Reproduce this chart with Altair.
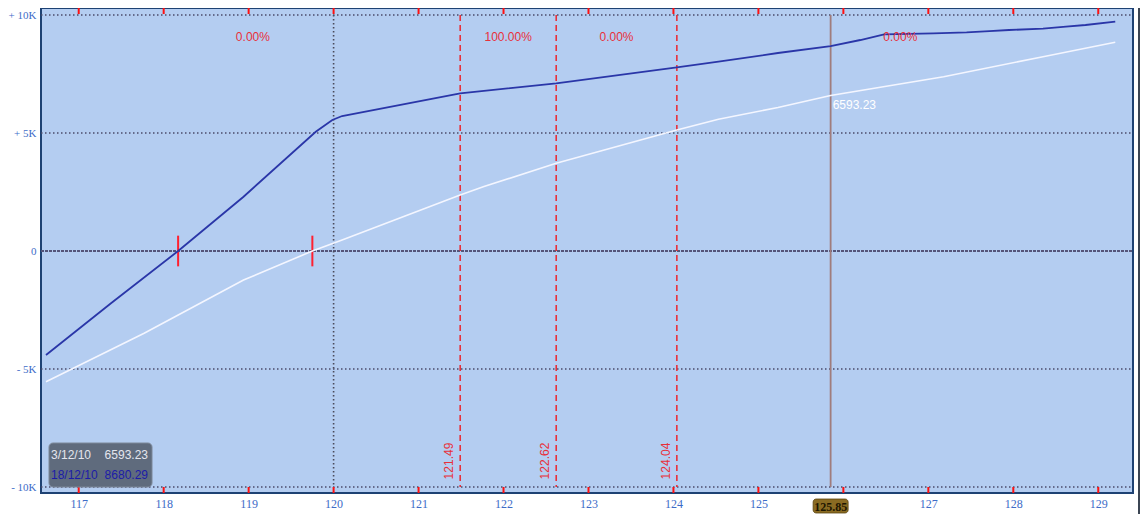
import altair as alt
import pandas as pd

# ---------------- data ----------------
x_ticks = [117, 118, 119, 120, 121, 122, 123, 124, 125, 126, 127, 128, 129]
x_tick_labels = [117, 118, 119, 120, 121, 122, 123, 124, 125, 127, 128, 129]  # 126 is hidden by the cursor badge
y_grid = [-10000, -5000, 5000, 10000]
y_ticks = [-10000, -5000, 0, 5000, 10000]

dark_x = [116.615, 117.38, 118.17, 118.94, 119.79, 119.985, 120.10, 121.49, 122.62, 124.04,
          124.53, 125.23, 125.85, 126.2, 126.48, 127.06, 127.45, 127.72, 127.95, 128.35,
          128.62, 128.85, 129.20]
dark_y = [-4407, -2216, 0, 2301, 5055, 5551, 5720, 6682, 7106, 7784,
          8021, 8390, 8680, 8941, 9182, 9225, 9267, 9320, 9364, 9420,
          9504, 9576, 9716]

white_x = [116.615, 117.77, 118.94, 119.75, 120.10, 121.49, 121.77, 122.62, 124.04, 124.53,
           125.23, 125.85, 127.18, 128.35, 129.20]
white_y = [-5538, -3488, -1229, 0, 466, 2373, 2730, 3716, 5127, 5581,
           6080, 6593, 7386, 8233, 8843]

strikes = [121.49, 122.62, 124.04]
strike_labels = ["121.49", "122.62", "124.04"]
mid_line = [120.0]
cursor_x = [125.85]
cursor_label = ["125.85"]
cursor_value = ["6593.23"]
zero_cross = [118.17, 119.75]

pct_x = [119.05, 122.055, 123.33, 126.67]
pct_text = ["0.00%", "100.00%", "0.00%", "0.00%"]

legend_dates = ["3/12/10", "18/12/10"]
legend_values = ["6593.23", "8680.29"]

# ---------------- scales / axes ----------------
xs = alt.Scale(domain=[116.615, 129.35], nice=False, zero=False)
ys = alt.Scale(domain=[-10254, 10297], nice=False, zero=False)

AXIS_BLUE = "#3d6cc8"
RED = "#e8303a"

x_axis = alt.Axis(values=x_tick_labels, labelColor=AXIS_BLUE, labelFont="Liberation Serif",
                  labelFontSize=12, ticks=False, domain=False, grid=False,
                  labelPadding=5, labelFlush=False, title=None)
y_axis = alt.Axis(values=y_ticks, labelColor=AXIS_BLUE, labelFont="Liberation Serif",
                  labelFontSize=11, ticks=False, domain=False, grid=False,
                  labelPadding=5, title=None,
                  labelExpr="datum.value > 0 ? '+ ' + (datum.value/1000) + 'K' : (datum.value < 0 ? '- ' + (-datum.value/1000) + 'K' : '0')")


def X(field="x"):
    return alt.X(f"{field}:Q", scale=xs, axis=x_axis)


def Y(field="y"):
    return alt.Y(f"{field}:Q", scale=ys, axis=y_axis)


# horizontal dotted grid
grid_df = pd.DataFrame({"y": y_grid})
hgrid = alt.Chart(grid_df).mark_rule(color="#4b4b6b", strokeWidth=1.6, strokeDash=[1.5, 2.5]).encode(
    y=Y(), x=alt.value(0), x2=alt.value(1092))

zero_df = pd.DataFrame({"y": [0]})
zline = alt.Chart(zero_df).mark_rule(color="#55557a", strokeWidth=2, strokeDash=[3, 1]).encode(
    y=Y(), x=alt.value(0), x2=alt.value(1092))

# vertical dotted line at 120
mid_df = pd.DataFrame({"x": mid_line, "y": [10000], "y2": [-10000]})
midl = alt.Chart(mid_df).mark_rule(color="#4a4a5a", strokeWidth=1.6, strokeDash=[1.5, 2.5]).encode(
    x=X(), y=Y(), y2="y2:Q")

# red ticks top/bottom
tick_df = pd.DataFrame({"x": x_ticks})
top_ticks = alt.Chart(tick_df).mark_rule(color="#ff1010", strokeWidth=2).encode(
    x=X(), y=alt.value(0), y2=alt.value(6))
bot_ticks = alt.Chart(tick_df).mark_rule(color="#ff1010", strokeWidth=2).encode(
    x=X(), y=alt.value(479), y2=alt.value(485))

# strike lines
strike_df = pd.DataFrame({"x": strikes, "label": strike_labels, "y": [10000] * 3,
                          "y2": [-10000] * 3, "ly": [-8900] * 3})
strike_rules = alt.Chart(strike_df).mark_rule(color=RED, strokeWidth=1.6, strokeDash=[6, 4]).encode(
    x=X(), y=Y(), y2="y2:Q")
strike_text = alt.Chart(strike_df).mark_text(color=RED, angle=270, align="center",
                                             baseline="alphabetic", dy=-7,
                                             font="Liberation Sans", fontSize=12).encode(
    x=X(), y=Y("ly"), text="label:N")

# cursor line
cur_df = pd.DataFrame({"x": cursor_x, "y": [10000], "y2": [-10000], "label": cursor_label,
                       "val": cursor_value, "vy": [6593]})
cur_rule = alt.Chart(cur_df).mark_rule(color="#a07c7c", strokeWidth=1.8).encode(
    x=X(), y=Y(), y2="y2:Q")
cur_val = alt.Chart(cur_df).mark_text(color="white", align="left", baseline="middle", dx=2, dy=10,
                                      font="Liberation Sans", fontSize=12).encode(
    x=X(), y=Y("vy"), text="val:N")
badge = alt.Chart(cur_df).mark_bar(orient="vertical", size=35, cornerRadius=3, color="#8a6b22",
                                   stroke="#5a4410", strokeWidth=0.8).encode(
    x=X(), y=alt.value(491), y2=alt.value(505))
badge_text = alt.Chart(cur_df).mark_text(color="#1e1600", align="center", baseline="middle",
                                         font="Liberation Serif", fontSize=12, fontWeight="bold").encode(
    x=X(), y=alt.value(498.5), text="label:N")

# zero-crossing markers
zc_df = pd.DataFrame({"x": zero_cross, "y": [650] * 2, "y2": [-650] * 2})
zc = alt.Chart(zc_df).mark_rule(color="#ff2030", strokeWidth=2).encode(
    x=X(), y=Y(), y2="y2:Q")

# lines
white_df = pd.DataFrame({"x": white_x, "y": white_y})
white_line = alt.Chart(white_df).mark_line(color="#f4f6ff", strokeWidth=1.6).encode(x=X(), y=Y())
dark_df = pd.DataFrame({"x": dark_x, "y": dark_y})
dark_line = alt.Chart(dark_df).mark_line(color="#2a36a8", strokeWidth=1.8).encode(x=X(), y=Y())

# percent labels
pct_df = pd.DataFrame({"x": pct_x, "y": [9068] * 4, "t": pct_text})
pct = alt.Chart(pct_df).mark_text(color=RED, align="center", baseline="middle",
                                  font="Liberation Sans", fontSize=12).encode(
    x=X(), y=Y(), text="t:N")

# legend box
one = pd.DataFrame({"a": [0]})
leg_box = alt.Chart(one).mark_rect(color="#5f6b7d", cornerRadius=4, stroke="#7d8899",
                                   strokeWidth=1).encode(
    x=alt.value(8), x2=alt.value(111), y=alt.value(435), y2=alt.value(479))
leg_t = []
for i, col in enumerate(["#e4e6ee", "#1c1ca8"]):
    yy = 447 + i * 20
    leg_t.append(alt.Chart(one).mark_text(color=col, align="left", baseline="middle",
                                          font="Liberation Sans", fontSize=12).encode(
        x=alt.value(10), y=alt.value(yy), text=alt.value(legend_dates[i])))
    leg_t.append(alt.Chart(one).mark_text(color=col, align="right", baseline="middle",
                                          font="Liberation Sans", fontSize=12).encode(
        x=alt.value(107), y=alt.value(yy), text=alt.value(legend_values[i])))

# right frame edge
frame = alt.Chart(one).mark_rule(color="#3b4553", strokeWidth=2).encode(
    x=alt.value(1098), y=alt.value(-8), y2=alt.value(506))

chart = alt.layer(
    hgrid, zline, midl, strike_rules, cur_rule, zc, white_line, dark_line,
    top_ticks, bot_ticks, strike_text, cur_val, pct, leg_box, *leg_t, badge, badge_text, frame
).properties(
    width=1092, height=485,
    autosize=alt.AutoSizeParams(type="none"),
    padding={"left": 33, "top": 0, "right": 7, "bottom": 21},
).configure_view(
    fill="#b4cdf1", stroke="#1e4273", strokeWidth=2
)

chart.save("out.html", embed_options={"renderer": "svg", "actions": False})
